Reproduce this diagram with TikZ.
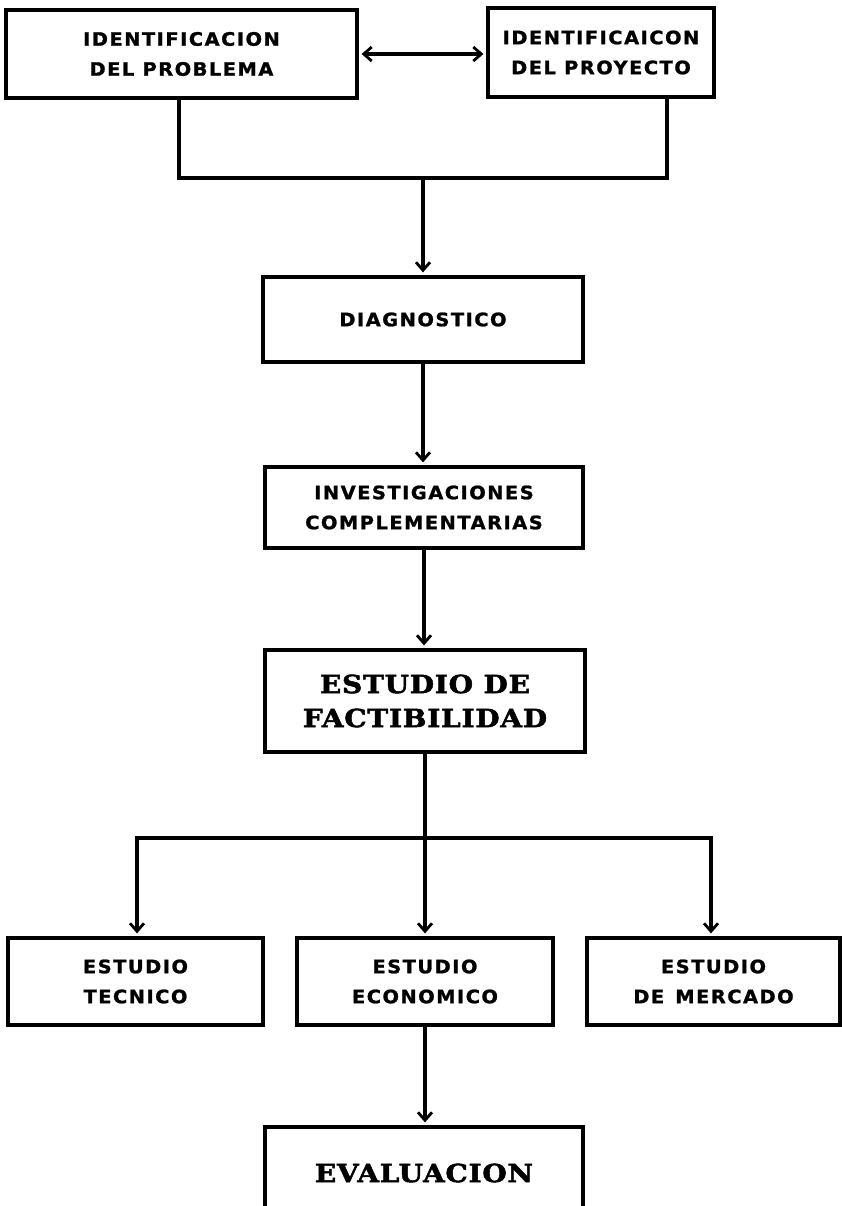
\documentclass[tikz,border=0pt]{standalone}
\usepackage{fontspec}
\usetikzlibrary{arrows.meta}
% Wide heavy sans for the ordinary boxes, heavy wide serif for the two main stages
\newfontfamily\labelfont[FakeStretch=1.05,LetterSpace=8,FakeBold=1.2]{DejaVu Sans Bold}
\newfontfamily\titlefont[FakeStretch=1.12,LetterSpace=3,FakeBold=2]{DejaVu Serif Bold}

\begin{document}
\begin{tikzpicture}[x=1pt,y=-1pt,line width=3.2pt,
  box/.style={draw,rectangle,inner sep=0pt,align=center,
    font=\labelfont\fontsize{18.5}{30}\selectfont},
  titlebox/.style={box,font=\titlefont\fontsize{25}{34}\selectfont},
  link/.style={line cap=rect},
  arr/.style={-{Straight Barb[length=8pt,width=14pt,line width=2.8pt]},shorten >=3pt},
  darr/.style={{Straight Barb[length=8pt,width=14pt,line width=2.8pt]}-{Straight Barb[length=8pt,width=14pt,line width=2.8pt]},shorten >=3pt,shorten <=3pt}]

\useasboundingbox (0,0) rectangle (842,1206);

% boxes
\node[box,minimum width=351pt,minimum height=88pt] (prob) at (181.5,54) {IDENTIFICACION\\DEL PROBLEMA};
\node[box,minimum width=226pt,minimum height=89pt] (proy) at (601,52.5) {IDENTIFICAICON\\DEL PROYECTO};
\node[box,minimum width=320pt,minimum height=85pt] (diag) at (423,319.5) {DIAGNOSTICO};
\node[box,minimum width=318pt,minimum height=81pt] (inv) at (424,507.5) {INVESTIGACIONES\\COMPLEMENTARIAS};
\node[titlebox,minimum width=320pt,minimum height=102pt] (fact) at (425,701) {ESTUDIO DE\\FACTIBILIDAD};
\node[box,minimum width=255pt,minimum height=87pt] (tec) at (135.5,981.5) {ESTUDIO\\TECNICO};
\node[box,minimum width=256pt,minimum height=87pt] (eco) at (425,981.5) {ESTUDIO\\ECONOMICO};
\node[box,minimum width=253pt,minimum height=87pt] (mer) at (713.5,981.5) {ESTUDIO\\DE\hspace{0.6em}MERCADO};
\node[titlebox,minimum width=318pt,minimum height=92pt] (eval) at (424,1173) {EVALUACION};

% junction points
\coordinate (jl) at (179,178);
\coordinate (jm) at (423,178);
\coordinate (jr) at (667,178);
\coordinate (bl) at (137,838);
\coordinate (bm) at (425,838);
\coordinate (br) at (711,838);

% connectors
\draw[darr] (prob.east) -- (prob.east -| proy.west);
\draw[link] (prob.south -| jl) -- (jl) -- (jr) -- (proy.south -| jr);
\draw[arr] (jm) -- (jm |- diag.north);
\draw[arr] (diag.south) -- (diag.south |- inv.north);
\draw[arr] (inv.south) -- (inv.south |- fact.north);
\draw[link] (fact.south) -- (bm);
\draw[link] (bl) -- (br);
\draw[arr] (bl) -- (bl |- tec.north);
\draw[arr] (bm) -- (bm |- eco.north);
\draw[arr] (br) -- (br |- mer.north);
\draw[arr] (eco.south) -- (eco.south |- eval.north);
\end{tikzpicture}
\end{document}
